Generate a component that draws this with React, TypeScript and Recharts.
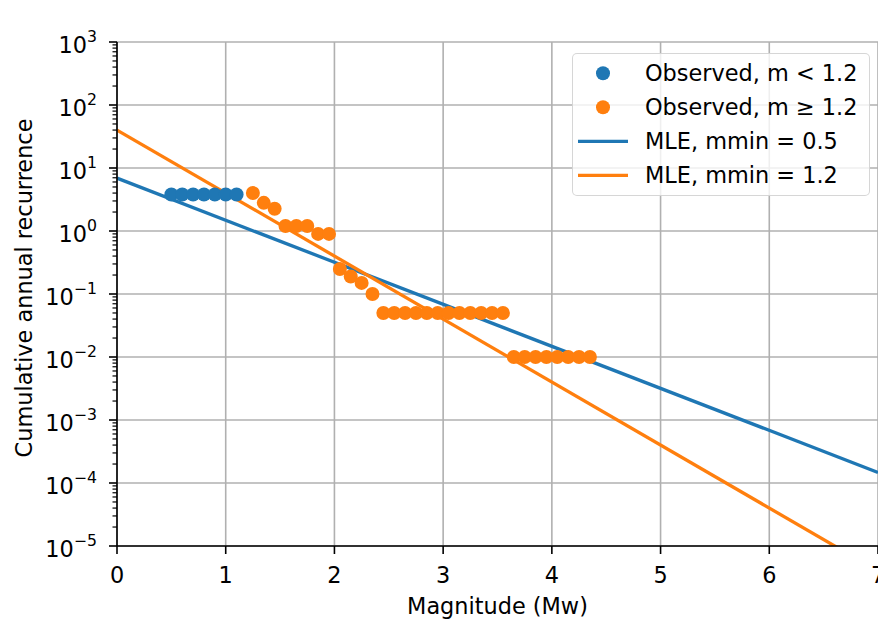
import React from 'react';
import { ComposedChart, XAxis, YAxis, CartesianGrid, Scatter, Line, Legend } from 'recharts';

const BLUE = '#1f77b4';
const ORANGE = '#ff7f0e';
const FONT = '"DejaVu Sans", Verdana, sans-serif';

const title = 'Area 6';
const xLabel = 'Magnitude (Mw)';
const yLabel = 'Cumulative annual recurrence';

// Observed, m < 1.2
const blueMag = [0.5, 0.6, 0.7, 0.8, 0.9, 1.0, 1.1];
const blueRate = [3.8, 3.8, 3.8, 3.8, 3.8, 3.8, 3.8];

// Observed, m >= 1.2
const orangeMag = [
  1.25, 1.35, 1.45, 1.55, 1.65, 1.75, 1.85, 1.95, 2.05, 2.15, 2.25, 2.35,
  2.45, 2.55, 2.65, 2.75, 2.85, 2.95, 3.05, 3.15, 3.25, 3.35, 3.45, 3.55,
  3.65, 3.75, 3.85, 3.95, 4.05, 4.15, 4.25, 4.35,
];
const orangeRate = [
  4.0, 2.8, 2.25, 1.2, 1.2, 1.2, 0.9, 0.9, 0.25, 0.19, 0.15, 0.1,
  0.05, 0.05, 0.05, 0.05, 0.05, 0.05, 0.05, 0.05, 0.05, 0.05, 0.05, 0.05,
  0.01, 0.01, 0.01, 0.01, 0.01, 0.01, 0.01, 0.01,
];

// MLE fits (straight lines in log space, endpoints)
const mleMag = [0, 7];
const mle05Rate = [6.9, 1.47e-4];
const mle12Rate = [40, 4.0e-6];

const legendNames = ['Observed, m < 1.2', 'Observed, m \u2265 1.2', 'MLE, mmin = 0.5', 'MLE, mmin = 1.2'];
const legendColors = [BLUE, ORANGE, BLUE, ORANGE];
const legendKinds = ['dot', 'dot', 'line', 'line'];

const xTicks = [0, 1, 2, 3, 4, 5, 6, 7];
const yMajor = [1e-5, 1e-4, 1e-3, 1e-2, 1e-1, 1, 10, 100, 1000];
const minorMult = [2, 3, 4, 5, 6, 7, 8, 9];
const yMinor = yMajor.slice(0, -1).flatMap((d) => minorMult.map((k) => k * d));
const yTicks = [...yMajor, ...yMinor];

const toRows = (ms: number[], rs: number[]) => ms.map((m, i) => ({ m, rate: rs[i] }));
const blueData = toRows(blueMag, blueRate);
const orangeData = toRows(orangeMag, orangeRate);
const mle05Data = toRows(mleMag, mle05Rate);
const mle12Data = toRows(mleMag, mle12Rate);

const YTick = (props: any) => {
  const { x, y, payload } = props;
  const v = payload.value;
  const lg = Math.log10(v);
  const e = Math.round(lg);
  const major = Math.abs(lg - e) < 1e-6;
  const len = major ? 8 : 4.5;
  return (
    <g>
      <line x1={x - len} x2={x} y1={y} y2={y} stroke="#000" strokeWidth={major ? 1.6 : 1.2} />
      {major && (
        <text x={x - 20} y={y + 10.5} textAnchor="end" fontFamily={FONT} fontSize={22.4} fill="#000">
          <tspan>10</tspan>
          <tspan dy={-10.5} fontSize={15.7}>{e < 0 ? '\u2212' + -e : String(e)}</tspan>
        </text>
      )}
    </g>
  );
};

const XTick = (props: any) => {
  const { x, y, payload } = props;
  return (
    <g>
      <line x1={x} x2={x} y1={y} y2={y + 8} stroke="#000" strokeWidth={1.6} />
      <text x={x} y={y + 36.5} textAnchor="middle" fontFamily={FONT} fontSize={22.4} fill="#000">
        {payload.value}
      </text>
    </g>
  );
};

const Dot = (color: string) => (props: any) => {
  const { cx, cy } = props;
  if (cx == null || cy == null) return <g />;
  return <circle cx={cx} cy={cy} r={7} fill={color} />;
};

const TitleLabel = (props: any) => {
  const vb = props.viewBox || { x: 117, y: 42, width: 761, height: 0 };
  return (
    <text x={vb.x + vb.width / 2} y={vb.y - 15.5} textAnchor="middle" fontFamily={FONT} fontSize={26.8} fill="#000">
      {title}
    </text>
  );
};

const XLabel = (props: any) => {
  const vb = props.viewBox || { x: 117, y: 546, width: 761, height: 77 };
  return (
    <text x={vb.x + vb.width / 2} y={vb.y + 68} textAnchor="middle" fontFamily={FONT} fontSize={22.4} fill="#000">
      {xLabel}
    </text>
  );
};

const YLabel = (props: any) => {
  const vb = props.viewBox || { x: 37, y: 42, width: 80, height: 504 };
  const cx = vb.x - 5;
  const cy = vb.y + vb.height / 2 - 6;
  return (
    <text
      x={cx}
      y={cy}
      transform={`rotate(-90, ${cx}, ${cy})`}
      textAnchor="middle"
      fontFamily={FONT}
      fontSize={22.4}
      fill="#000"
    >
      {yLabel}
    </text>
  );
};

const LegendBox = () => (
  <div
    style={{
      boxSizing: 'border-box',
      width: 298,
      height: 143,
      border: '1.3px solid rgba(204,204,204,0.8)',
      borderRadius: 5,
      background: 'rgba(255,255,255,0.8)',
      position: 'relative',
    }}
  >
    <svg width={298} height={143} style={{ position: 'absolute', left: -1, top: -1 }}>
      {legendNames.map((name, i) => {
        const cy = 20.3 + i * 34;
        return (
          <g key={name}>
            {legendKinds[i] === 'dot' ? (
              <circle cx={31} cy={cy} r={7} fill={legendColors[i]} />
            ) : (
              <line x1={6} x2={56} y1={cy} y2={cy} stroke={legendColors[i]} strokeWidth={3.3} />
            )}
            <text x={73} y={cy + 8.1} fontFamily={FONT} fontSize={22.4} fill="#000">
              {name}
            </text>
          </g>
        );
      })}
    </svg>
  </div>
);

export default function App() {
  return (
    <div style={{ position: 'absolute', left: 0, top: 0, width: 878, height: 623, background: '#fff' }}>
      <ComposedChart width={878} height={623} margin={{ top: 42, right: 0, bottom: 0, left: 37 }}>
        <XAxis
          dataKey="m"
          type="number"
          domain={[0, 7]}
          ticks={xTicks}
          interval={0}
          allowDataOverflow
          height={77}
          tickSize={0}
          tickMargin={0}
          tick={<XTick />}
          axisLine={{ stroke: '#000', strokeWidth: 1.6 }}
          label={<XLabel />}
        />
        <XAxis
          xAxisId="top"
          orientation="top"
          type="number"
          domain={[0, 7]}
          height={0}
          tick={false}
          tickLine={false}
          axisLine={{ stroke: '#000', strokeWidth: 1.6 }}
          label={<TitleLabel />}
        />
        <YAxis
          dataKey="rate"
          type="number"
          scale="log"
          domain={[1e-5, 1000]}
          ticks={yTicks}
          interval={0}
          allowDataOverflow
          width={80}
          tickSize={0}
          tickMargin={0}
          tick={<YTick />}
          axisLine={{ stroke: '#000', strokeWidth: 1.6 }}
          label={<YLabel />}
        />
        <Scatter
          name={legendNames[0]}
          data={blueData}
          fill={BLUE}
          shape={Dot(BLUE)}
          isAnimationActive={false}
        />
        <Scatter
          name={legendNames[1]}
          data={orangeData}
          fill={ORANGE}
          shape={Dot(ORANGE)}
          isAnimationActive={false}
        />
        <CartesianGrid
          horizontalValues={yMajor}
          verticalValues={xTicks}
          stroke="#b0b0b0"
          strokeWidth={1.6}
        />
        <Line
          name={legendNames[2]}
          data={mle05Data}
          dataKey="rate"
          type="linear"
          stroke={BLUE}
          strokeWidth={3.3}
          dot={false}
          activeDot={false}
          isAnimationActive={false}
        />
        <Line
          name={legendNames[3]}
          data={mle12Data}
          dataKey="rate"
          type="linear"
          stroke={ORANGE}
          strokeWidth={3.3}
          dot={false}
          activeDot={false}
          isAnimationActive={false}
        />
        <Legend
          layout="horizontal"
          align="center"
          verticalAlign="middle"
          content={<LegendBox />}
          wrapperStyle={{ position: 'absolute', left: 572, top: 53, width: 298, height: 143 }}
        />
      </ComposedChart>
    </div>
  );
}
